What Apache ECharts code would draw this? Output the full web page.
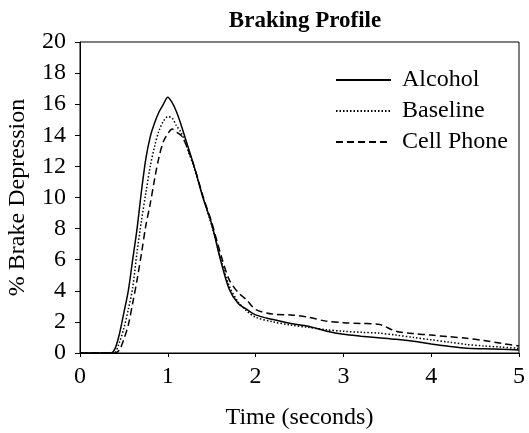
<!DOCTYPE html>
<html><head><meta charset="utf-8">
<script src="https://cdn.jsdelivr.net/npm/echarts@6/dist/echarts.min.js"></script>
<style>html,body{margin:0;padding:0;background:#fff}#c{width:529px;height:433px}</style>
</head><body><div id="c"></div>
<script>
var times = [0, 0.35, 0.4, 0.45, 0.5, 0.55, 0.6, 0.65, 0.7, 0.75, 0.8, 0.85, 0.9, 0.95, 1.0, 1.05, 1.1, 1.15, 1.2, 1.3, 1.4, 1.5, 1.6, 1.7, 1.8, 1.9, 2.0, 2.2, 2.4, 2.6, 2.8, 3.0, 3.2, 3.4, 3.6, 3.8, 4.0, 4.2, 4.4, 4.6, 4.8, 5.0];
var alcohol = [0, 0, 0.3, 1.25, 2.6, 4.0, 6.0, 8.0, 10.4, 12.5, 13.9, 14.8, 15.5, 16.0, 16.45, 16.1, 15.5, 14.7, 13.8, 12.0, 10.0, 8.3, 6.0, 4.1, 3.2, 2.8, 2.45, 2.15, 1.9, 1.72, 1.42, 1.2, 1.08, 0.98, 0.88, 0.75, 0.58, 0.43, 0.3, 0.27, 0.24, 0.2];
var baseline = [0, 0, 0.05, 0.7, 1.6, 2.8, 4.2, 6.5, 8.5, 10.3, 12.0, 13.3, 14.3, 14.9, 15.2, 15.1, 14.6, 14.2, 13.5, 11.9, 10.0, 8.2, 6.1, 4.3, 3.3, 2.7, 2.3, 2.0, 1.8, 1.65, 1.5, 1.4, 1.33, 1.28, 1.15, 1.0, 0.85, 0.7, 0.55, 0.45, 0.38, 0.3];
var cellPhone = [0, 0, 0, 0.2, 0.9, 1.8, 3.2, 4.7, 6.4, 8.2, 9.6, 11.2, 12.6, 13.6, 14.1, 14.4, 14.2, 14.0, 13.5, 12.0, 10.1, 8.4, 6.4, 4.7, 3.9, 3.4, 2.8, 2.5, 2.45, 2.3, 2.05, 1.95, 1.9, 1.85, 1.4, 1.25, 1.15, 1.05, 0.95, 0.8, 0.62, 0.45];
var seriesNames = ['Alcohol', 'Baseline', 'Cell Phone'];
var titleText = 'Braking Profile';
var xName = 'Time (seconds)';
var yName = '% Brake Depression';

function pairs(vals){ return times.map(function(t,i){ return [t, vals[i]]; }); }
var font = "'Liberation Serif','Times New Roman',serif";
var chart = echarts.init(document.getElementById('c'), null, {renderer:'canvas'});
var styles = [
  {type:'solid', width:1.5},
  {type:[1.5,2], width:1.5},
  {type:[7,4], width:1.5}
];
var data = [alcohol, baseline, cellPhone];
chart.setOption({
  animation:false,
  backgroundColor:'#fff',
  title:{text:titleText, left:300, textAlign:'center', top:5,
    textStyle:{fontFamily:font, fontWeight:'bold', fontSize:23, color:'#000'}},
  legend:{left:330, top:63, orient:'vertical', itemWidth:55, itemHeight:14, itemGap:7,
    itemStyle:{opacity:0},
    textStyle:{fontFamily:font, fontSize:24, color:'#000', padding:[0,0,0,6]},
    data:seriesNames},
  grid:{left:80, right:10, top:42, bottom:80, show:true, borderColor:'#000', borderWidth:1,
    containLabel:false, outerBoundsMode:'none'},
  xAxis:{type:'value', min:0, max:5, interval:1, name:xName, nameLocation:'middle', nameGap:53,
    nameTextStyle:{fontFamily:font, fontSize:24, color:'#000'},
    axisLine:{lineStyle:{color:'#000', width:1}}, axisTick:{show:true, inside:false, length:4, lineStyle:{color:'#000'}},
    axisLabel:{fontFamily:font, fontSize:24, color:'#000', margin:12}, splitLine:{show:false}},
  yAxis:{type:'value', min:0, max:20, interval:2, name:yName, nameLocation:'middle', nameGap:50,
    nameTextStyle:{fontFamily:font, fontSize:24, color:'#000'},
    axisLine:{show:true, lineStyle:{color:'#000', width:1}}, axisTick:{show:true, length:5, lineStyle:{color:'#000'}},
    axisLabel:{fontFamily:font, fontSize:24, color:'#000', margin:14}, splitLine:{show:false}},
  series:seriesNames.map(function(n,i){
    return {name:n, type:'line', data:pairs(data[i]), symbol:'none', smooth:0.3,
      lineStyle:{color:'#000', width:styles[i].width, type:styles[i].type},
      itemStyle:{color:'#000'}};
  })
});
</script></body></html>
